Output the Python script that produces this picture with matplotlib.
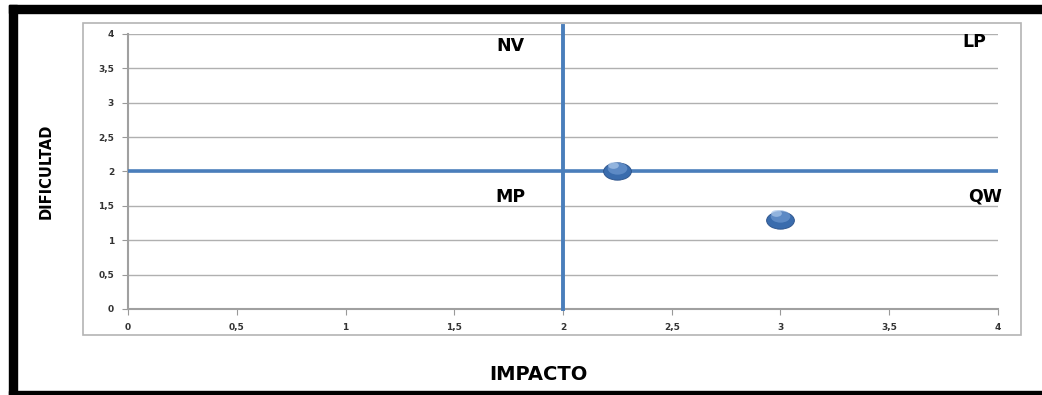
import numpy as np
import matplotlib.pyplot as plt
from matplotlib.patches import Rectangle
from matplotlib.path import Path
from matplotlib.transforms import Affine2D

# datos
impacto = [2.25, 3.0]
dificultad = [2.0, 1.3]
etiquetas = ["NV", "LP", "MP", "QW"]
etq_x = [1.76, 3.89, 1.76, 3.94]
etq_y = [3.83, 3.88, 1.63, 1.63]
ticks = [0, 0.5, 1, 1.5, 2, 2.5, 3, 3.5, 4]
tick_txt = ["0", "0,5", "1", "1,5", "2", "2,5", "3", "3,5", "4"]

W, H = 1042, 395
fig = plt.figure(figsize=(W/100, H/100), dpi=100)
plt.rcParams['font.family'] = ['DejaVu Sans']

# marco negro y caja gris
fig.patches.append(Rectangle((9/W, 1-13/H), (W-9)/W, 8/H, transform=fig.transFigure, color='black'))
fig.patches.append(Rectangle((9/W, 0), 8/W, 1-5/H, transform=fig.transFigure, color='black'))
fig.patches.append(Rectangle((9/W, 0), (W-9)/W, 4/H, transform=fig.transFigure, color='black'))
fig.patches.append(Rectangle((83/W, 1-335/H), (1021-83)/W, (335-23)/H, transform=fig.transFigure,
                             fill=False, edgecolor='#b4b4b4', lw=1.2))

ax = fig.add_axes([128/W, 1-309/H, (998-128)/W, (309-34)/H])
ax.set_xlim(0, 4)
ax.set_ylim(0, 4)
ax.set_xticks(ticks)
ax.set_xticklabels(tick_txt)
ax.set_yticks(ticks)
ax.set_yticklabels(tick_txt)
ax.tick_params(labelsize=6.5, length=4, color='#999999', labelcolor='#333333', pad=6)
for t in ax.get_xticklabels() + ax.get_yticklabels():
    t.set_fontweight('bold')
ax.grid(axis='y', color='#b0b0b0', lw=1)
ax.set_axisbelow(True)
for s in ['top', 'right']:
    ax.spines[s].set_visible(False)
for s in ['left', 'bottom']:
    ax.spines[s].set_color('#a0a0a0')
    ax.spines[s].set_linewidth(1.5)

azul = '#4a7ebb'
ax.plot([0, 4], [2, 2], color=azul, lw=2.6, zorder=3)
ax.plot([2, 2], [0, 4.12], color=azul, lw=2.8, zorder=3, clip_on=False)

elipse = Path.unit_circle().transformed(Affine2D().scale(1.6, 1.0))
ax.scatter(impacto, dificultad, s=400, marker=elipse, color='#3a6cad', edgecolor='#2a5088',
           lw=0.6, zorder=4)
ax.scatter(impacto, [y + 0.05 for y in dificultad], s=200, marker=elipse,
           color='#6d98d0', lw=0, zorder=5, alpha=0.7)
ax.scatter([x - 0.02 for x in impacto], [y + 0.1 for y in dificultad], s=60, marker=elipse,
           color='#a9c6ea', lw=0, zorder=6, alpha=0.7)

for e, x, y in zip(etiquetas, etq_x, etq_y):
    ax.text(x, y, e, ha='center', va='center', fontsize=12.5, fontweight='bold', color='black')

fig.text(538/W, 1-375/H, "IMPACTO", ha='center', va='center', fontsize=14, fontweight='bold')
fig.text(46/W, 1-171/H, "DIFICULTAD", ha='center', va='center', rotation=90, fontsize=10.5,
         fontweight='bold')

fig.savefig('out.png', dpi=100)
